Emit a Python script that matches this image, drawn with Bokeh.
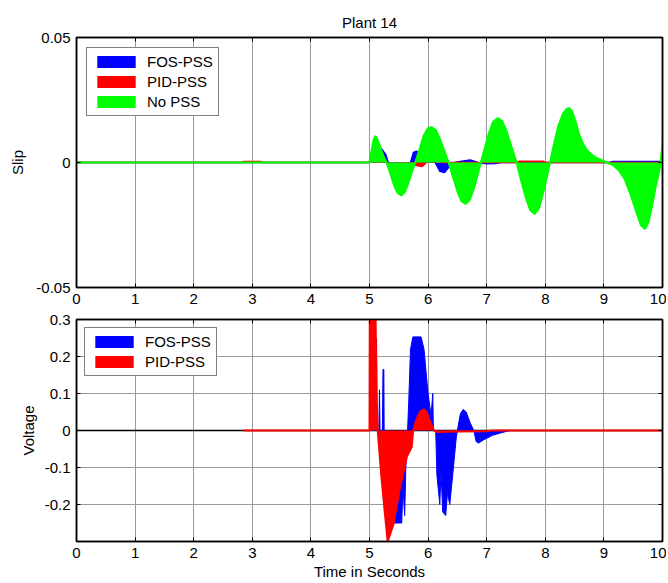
from bokeh.plotting import figure
from bokeh.models import LinearAxis, FixedTicker, Range1d, CustomJSTickFormatter
from bokeh.layouts import column
from bokeh.embed import file_html
from bokeh.resources import INLINE

FONT = "Liberation Sans"
FS = "15px"

# ---------------- data: Slip (top) ----------------
x_ticks = [0, 1, 2, 3, 4, 5, 6, 7, 8, 9, 10]
slip_ticks = [-0.05, 0, 0.05]
volt_ticks = [-0.2, -0.1, 0, 0.1, 0.2, 0.3]

t_slip_fos = [0, 5.0, 5.08, 5.15, 5.22, 5.28, 5.32, 5.45, 5.55, 5.65, 5.7, 5.75, 5.8, 5.9, 6.0,
              6.12, 6.2, 6.28, 6.35, 6.45, 6.6, 6.72, 6.85, 7.0, 7.15, 7.25, 9.1, 9.15, 9.95, 10.0]
slip_fos = [0, 0, 0.008, 0.007, 0.005, 0.003, 0, -0.006, -0.007, -0.003, 0, 0.004, 0.0045, 0.003, 0.001,
            0, -0.0035, -0.004, -0.002, 0, 0.0006, 0.001, 0, -0.0005, -0.0004, 0, 0, 0.0004, 0.0004, 0]

t_slip_pid = [0, 2.84, 2.85, 3.15, 3.16, 5.0, 5.08, 5.2, 5.3, 5.45, 5.6, 5.72, 5.8, 5.9, 5.97,
              6.1, 6.25, 7.52, 7.55, 7.97, 8.0, 10.0]
slip_pid = [0, 0, 0.0004, 0.0004, 0, 0, 0.006, 0.004, 0, -0.004, -0.002, 0, -0.0012, -0.0016, 0,
            0.001, 0, 0, 0.0005, 0.0005, 0, 0]

t_slip_nopss = [0, 5.0, 5.03, 5.07, 5.10, 5.14, 5.2, 5.25, 5.29,
                5.35, 5.42, 5.48, 5.54, 5.6, 5.66, 5.72, 5.78,
                5.85, 5.92, 5.99, 6.06, 6.13, 6.2, 6.28, 6.35,
                6.42, 6.5, 6.57, 6.64, 6.71, 6.78, 6.85, 6.90,
                6.97, 7.04, 7.11, 7.19, 7.26, 7.34, 7.42, 7.51,
                7.58, 7.66, 7.74, 7.82, 7.89, 7.96, 8.02, 8.08,
                8.15, 8.22, 8.3, 8.37, 8.41, 8.46, 8.52, 8.58, 8.65, 8.72, 8.8, 8.9, 9.0, 9.05,
                9.15, 9.25, 9.35, 9.45, 9.55, 9.63, 9.70, 9.76, 9.82, 9.88, 9.94, 9.97, 10.0]
slip_nopss = [0, 0, 0.004, 0.009, 0.0106, 0.009, 0.005, 0.002, 0,
              -0.004, -0.0092, -0.0122, -0.0132, -0.012, -0.0085, -0.004, 0,
              0.005, 0.0105, 0.0135, 0.0142, 0.013, 0.0095, 0.0045, 0,
              -0.0055, -0.0115, -0.0155, -0.0166, -0.015, -0.0105, -0.0045, 0,
              0.006, 0.012, 0.0163, 0.0178, 0.0167, 0.0125, 0.0065, 0,
              -0.0065, -0.0135, -0.019, -0.0206, -0.0185, -0.0125, -0.0065, 0,
              0.0075, 0.0145, 0.0195, 0.0215, 0.0217, 0.0205, 0.016, 0.011, 0.0072, 0.0047, 0.003, 0.0015, 0.0006, 0,
              -0.001, -0.003, -0.0065, -0.0125, -0.0195, -0.025, -0.0266, -0.024, -0.0175, -0.01, -0.004, 0, 0.008]

# ---------------- data: Voltage (bottom) ----------------
t_volt_fos = [2.85, 5.0, 5.08, 5.09, 5.12, 5.13, 5.16, 5.17, 5.18, 5.22,
              5.23, 5.245, 5.25, 5.3, 5.38, 5.55, 5.57, 5.6, 5.62, 5.65,
              5.67, 5.7, 5.74, 5.88, 5.93, 5.97, 6.0, 6.05, 6.08, 6.09,
              6.13, 6.15, 6.2, 6.22, 6.25, 6.3, 6.33, 6.37, 6.42, 6.48,
              6.5, 6.55, 6.6, 6.65, 6.72, 6.78, 6.82, 6.86, 6.95, 7.1,
              7.25, 7.4, 10.0]
volt_fos = [0, 0, 0, 0.25, 0.25, 0, 0, 0.11, 0, 0,
            0.165, 0.165, 0, -0.1, -0.25, -0.25, -0.15, -0.23, -0.1, 0,
            0.08, 0.22, 0.253, 0.253, 0.22, 0.15, 0.1, 0.04, 0.1, 0,
            0, -0.12, -0.2, -0.11, -0.22, -0.23, -0.17, -0.2, -0.12, -0.02,
            0, 0.045, 0.057, 0.05, 0.02, 0, -0.03, -0.034, -0.025, -0.013,
            -0.006, 0, 0]

t_volt_pid = [2.85, 5.0, 5.005, 5.1, 5.12, 5.14, 5.2, 5.26, 5.31, 5.41,
              5.51, 5.64, 5.72, 5.745, 5.8, 5.87, 5.93, 5.98, 6.03, 6.1,
              6.15, 6.5, 7.0, 7.1, 10.0]
volt_pid = [0, 0, 0.35, 0.35, 0.1, 0, -0.12, -0.22, -0.3, -0.253,
            -0.163, -0.07, -0.045, 0, 0.03, 0.052, 0.057, 0.048, 0.025, 0,
            -0.004, -0.003, -0.002, 0, 0]

t_baseline = [0, 10]
v_baseline = [0, 0]

BLUE = "#0000ff"
RED = "#ff0000"
GREEN = "#00ff00"
GRID = "#9a9a9a"

fmt_code = "return String(Math.round(tick*1000)/1000);"


def style(p, yticks, ylabel, ylabel_standoff, xlabel=None):
    xa = p.xaxis[0]
    ya = p.yaxis[0]
    xa.ticker = FixedTicker(ticks=x_ticks)
    ya.ticker = FixedTicker(ticks=yticks)
    xa.formatter = CustomJSTickFormatter(code=fmt_code)
    ya.formatter = CustomJSTickFormatter(code=fmt_code)
    ya.axis_label = ylabel
    ya.axis_label_standoff = ylabel_standoff
    if xlabel:
        xa.axis_label = xlabel
        xa.axis_label_standoff = 2
    for ax in (xa, ya):
        ax.major_tick_in = 4
        ax.major_tick_out = 0
        ax.minor_tick_line_color = None
        ax.axis_line_color = "black"
        ax.axis_line_width = 1.5
        ax.major_tick_line_color = "black"
        ax.major_label_text_font = FONT
        ax.major_label_text_font_size = FS
        ax.major_label_text_color = "black"
        ax.axis_label_text_font = FONT
        ax.axis_label_text_font_size = FS
        ax.axis_label_text_font_style = "normal"
        ax.axis_label_text_color = "black"
    xa.major_label_standoff = 6
    ya.major_label_standoff = 6
    # mirrored ticks on top and right (no labels)
    for loc, tick_list in (("above", x_ticks), ("right", yticks)):
        ax = LinearAxis(ticker=FixedTicker(ticks=tick_list),
                        formatter=CustomJSTickFormatter(code="return '';"),
                        major_label_text_font_size="1px", major_label_text_color=None,
                        major_label_standoff=0,
                        major_tick_in=4, major_tick_out=0,
                        minor_tick_line_color=None, axis_line_color="black",
                        axis_line_width=1.5, major_tick_line_color="black")
        p.add_layout(ax, loc)
    p.xgrid[0].ticker = FixedTicker(ticks=x_ticks)
    p.ygrid[0].ticker = FixedTicker(ticks=yticks)
    for g in (p.xgrid[0], p.ygrid[0]):
        g.grid_line_color = GRID
        g.grid_line_width = 1
        g.grid_line_alpha = 1
    p.outline_line_color = "black"
    p.outline_line_width = 1.5
    p.background_fill_color = "white"
    p.border_fill_color = "white"


def style_legend(p, margin):
    lg = p.legend[0]
    lg.location = "top_left"
    lg.margin = margin
    lg.padding = 5
    lg.spacing = 3
    lg.label_height = 15
    lg.glyph_width = 48
    lg.glyph_height = 15
    lg.label_standoff = 7
    lg.label_text_font = FONT
    lg.label_text_font_size = FS
    lg.label_text_color = "black"
    lg.border_line_color = "black"
    lg.border_line_width = 1.5
    lg.background_fill_color = "white"
    lg.background_fill_alpha = 1


# ---------------- top figure ----------------
p1 = figure(width=666, height=310, output_backend="svg", toolbar_location=None,
            x_range=Range1d(0, 10), y_range=Range1d(-0.05, 0.05),
            min_border_left=76, min_border_right=4, min_border_top=37, min_border_bottom=23)
p1.title.text = "Plant 14"
p1.title.align = "center"
p1.title.text_font = FONT
p1.title.text_font_size = FS
p1.title.text_font_style = "normal"
p1.title.text_color = "black"
p1.title.standoff = 14

p1.varea(x=t_slip_fos, y1=0, y2=slip_fos, fill_color=BLUE, legend_label="FOS-PSS")
p1.line(t_slip_fos, slip_fos, line_color=BLUE, line_width=1.5)
p1.varea(x=t_slip_pid, y1=0, y2=slip_pid, fill_color=RED, legend_label="PID-PSS")
p1.line(t_slip_pid, slip_pid, line_color=RED, line_width=1.5)
p1.varea(x=t_slip_nopss, y1=0, y2=slip_nopss, fill_color=GREEN, legend_label="No PSS")
p1.line(t_slip_nopss, slip_nopss, line_color=GREEN, line_width=2)
style(p1, slip_ticks, "Slip", 7)
style_legend(p1, 10)

# ---------------- bottom figure ----------------
p2 = figure(width=666, height=272, output_backend="svg", toolbar_location=None,
            x_range=Range1d(0, 10), y_range=Range1d(-0.3, 0.3),
            min_border_left=76, min_border_right=4, min_border_top=9, min_border_bottom=40)
p2.line(t_baseline, v_baseline, line_color="black", line_width=1.5)
p2.varea(x=t_volt_fos, y1=0, y2=volt_fos, fill_color=BLUE, legend_label="FOS-PSS")
p2.line(t_volt_fos, volt_fos, line_color=BLUE, line_width=1)
p2.varea(x=t_volt_pid, y1=0, y2=volt_pid, fill_color=RED, legend_label="PID-PSS")
p2.line(t_volt_pid, volt_pid, line_color=RED, line_width=2)
style(p2, volt_ticks, "Voltage", 5, xlabel="Time in Seconds")
style_legend(p2, 8)

layout = column(p1, p2)
open("out.html", "w").write(file_html(layout, INLINE))
